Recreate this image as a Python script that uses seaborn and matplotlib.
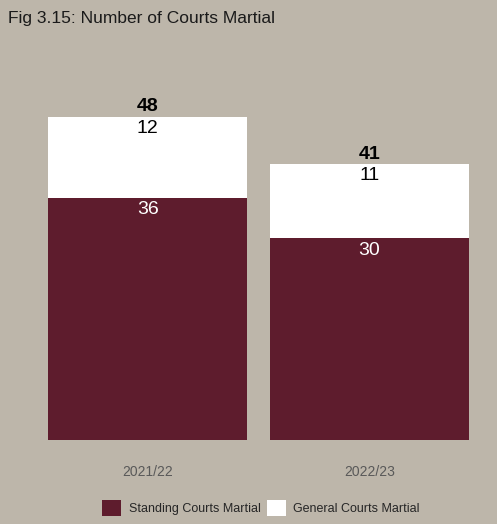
import matplotlib
matplotlib.use("Agg")
import matplotlib.pyplot as plt
import seaborn as sns
import pandas as pd
from matplotlib.patches import Patch

years = ["2021/22", "2022/23"]
standing = [36, 30]
general = [12, 11]
series_names = ["Standing Courts Martial", "General Courts Martial"]
title = "Fig 3.15: Number of Courts Martial"

BG = "#bdb6aa"
MAROON = "#5e1c2d"

totals = [s + g for s, g in zip(standing, general)]
df = pd.DataFrame({"year": years, "standing": standing, "general": general, "total": totals})

sns.set_theme(style="white")
plt.rcParams["font.family"] = ["Liberation Sans", "DejaVu Sans"]

fig = plt.figure(figsize=(4.97, 5.24), dpi=100, facecolor=BG)
ax = fig.add_axes([37 / 497, 1 - 440 / 524, (480 - 37) / 497, (440 - 60) / 524])
ax.set_facecolor(BG)

sns.barplot(data=df, x="year", y="total", color="white", width=0.9, ax=ax,
            saturation=1, edgecolor="none")
sns.barplot(data=df, x="year", y="standing", color=MAROON, width=0.9, ax=ax,
            saturation=1, edgecolor="none")

ax.set_xlim(-0.5, 1.5)
ax.set_ylim(0, 56.5)
ax.set_xlabel("")
ax.set_ylabel("")
ax.set_yticks([])
for s in ax.spines.values():
    s.set_visible(False)
ax.tick_params(axis="x", length=0, colors="#595959", labelsize=10, pad=18)

for i in range(len(years)):
    ax.text(i, totals[i] + 0.25, str(totals[i]), ha="center", va="bottom",
            fontsize=14, fontweight="bold", color="black")
    ax.text(i, totals[i] - 0.35, str(general[i]), ha="center", va="top",
            fontsize=14, color="black")
    ax.text(i, standing[i] - 0.5, str(standing[i]), ha="center", va="top",
            fontsize=14, color="white")

fig.text(8 / 497, 1 - 18 / 524, title, ha="left", va="center", fontsize=12.5, color="#1a1a1a")

handles = [Patch(facecolor=MAROON, edgecolor="none"), Patch(facecolor="white", edgecolor="none")]
fig.legend(handles, series_names, loc="center", bbox_to_anchor=(261 / 497, 1 - 508 / 524),
           ncol=2, frameon=False, fontsize=9, handlelength=1.5, handleheight=1.5,
           handletextpad=0.6, columnspacing=0.5, labelcolor="#262626")

fig.savefig("out.png", dpi=100, facecolor=BG)
